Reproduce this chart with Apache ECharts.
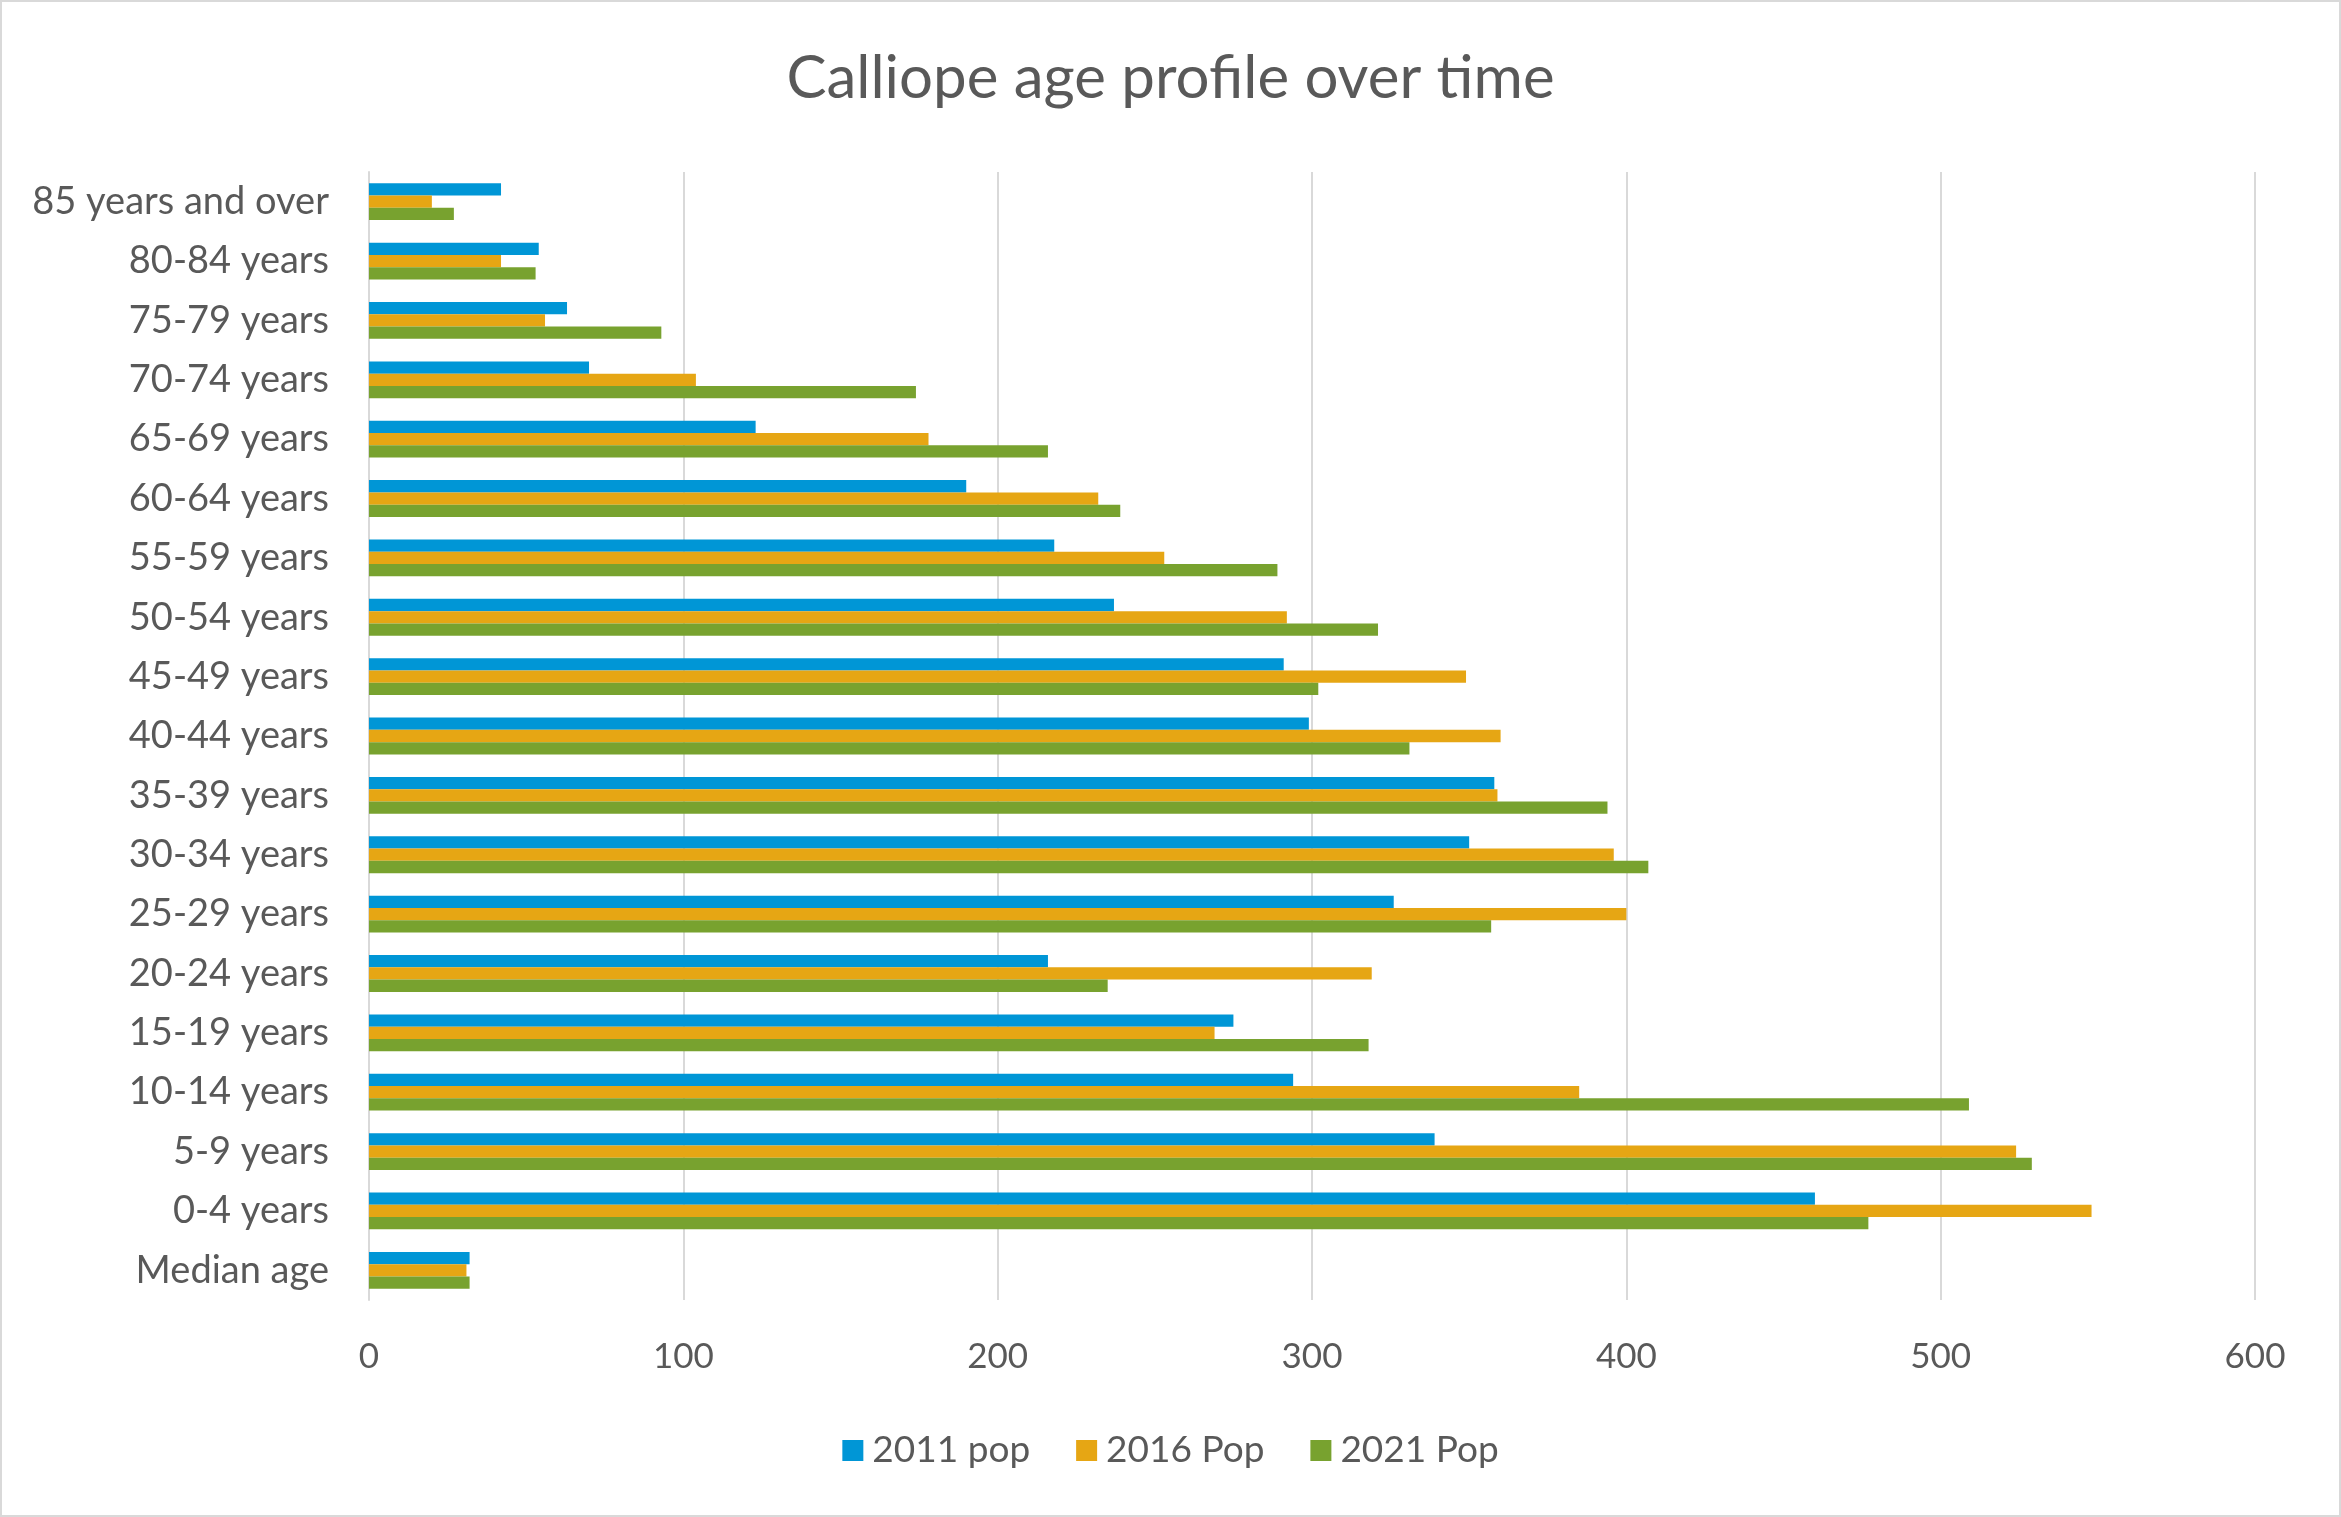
<!DOCTYPE html>
<html>
<head>
<meta charset="utf-8">
<script src="https://cdn.jsdelivr.net/npm/echarts@6/dist/echarts.min.js"></script>
<style>
html,body{margin:0;padding:0;background:#fff;}
#c{width:2341px;height:1517px;box-sizing:border-box;border:2px solid #d9d9d9;}
</style>
</head>
<body>
<div id="c"></div>
<script>
const categories = ['Median age','0-4 years','5-9 years','10-14 years','15-19 years','20-24 years','25-29 years','30-34 years','35-39 years','40-44 years','45-49 years','50-54 years','55-59 years','60-64 years','65-69 years','70-74 years','75-79 years','80-84 years','85 years and over'];
const pop2011 = [32,460,339,294,275,216,326,350,358,299,291,237,218,190,123,70,63,54,42];
const pop2016 = [31,548,524,385,269,319,400,396,359,360,349,292,253,232,178,104,56,42,20];
const pop2021 = [32,477,529,509,318,235,357,407,394,331,302,321,289,239,216,174,93,53,27];
const seriesNames = ['2011 pop','2016 Pop','2021 Pop'];
const xTicks = {min:0,max:600,interval:100};

const FONT = 'Lato';
const TXT = '#595959';
const chart = echarts.init(document.getElementById('c'));
chart.setOption({
  animation:false,
  textStyle:{fontFamily:FONT},
  title:{text:'Calliope age profile over time',left:'center',top:42,
    textStyle:{fontFamily:FONT,fontSize:60,fontWeight:'normal',color:TXT}},
  legend:{bottom:41,left:'center',itemWidth:21,itemHeight:21,itemGap:46,icon:'rect',
    textStyle:{fontFamily:FONT,fontSize:37,color:TXT,padding:[0,0,0,4]},data:seriesNames},
  grid:{left:367,right:84,top:170,bottom:215,containLabel:false},
  xAxis:{type:'value',min:xTicks.min,max:xTicks.max,interval:xTicks.interval,
    axisLine:{show:false},axisTick:{show:false},
    axisLabel:{fontFamily:FONT,fontSize:35,color:TXT,margin:39},
    splitLine:{lineStyle:{color:'#d9d9d9',width:2}}},
  yAxis:{type:'category',data:categories,
    axisLine:{show:true,lineStyle:{color:'#d9d9d9',width:2}},axisTick:{show:false},
    axisLabel:{fontFamily:FONT,fontSize:38,color:TXT,margin:40}},
  series:[
    {name:seriesNames[0],type:'bar',data:pop2011,itemStyle:{color:'#0096D6'},barGap:'0%',barCategoryGap:'38%'},
    {name:seriesNames[1],type:'bar',data:pop2016,itemStyle:{color:'#E6A614'},barGap:'0%',barCategoryGap:'38%'},
    {name:seriesNames[2],type:'bar',data:pop2021,itemStyle:{color:'#78A22F'},barGap:'0%',barCategoryGap:'38%'}
  ]
});
</script>
</body>
</html>
